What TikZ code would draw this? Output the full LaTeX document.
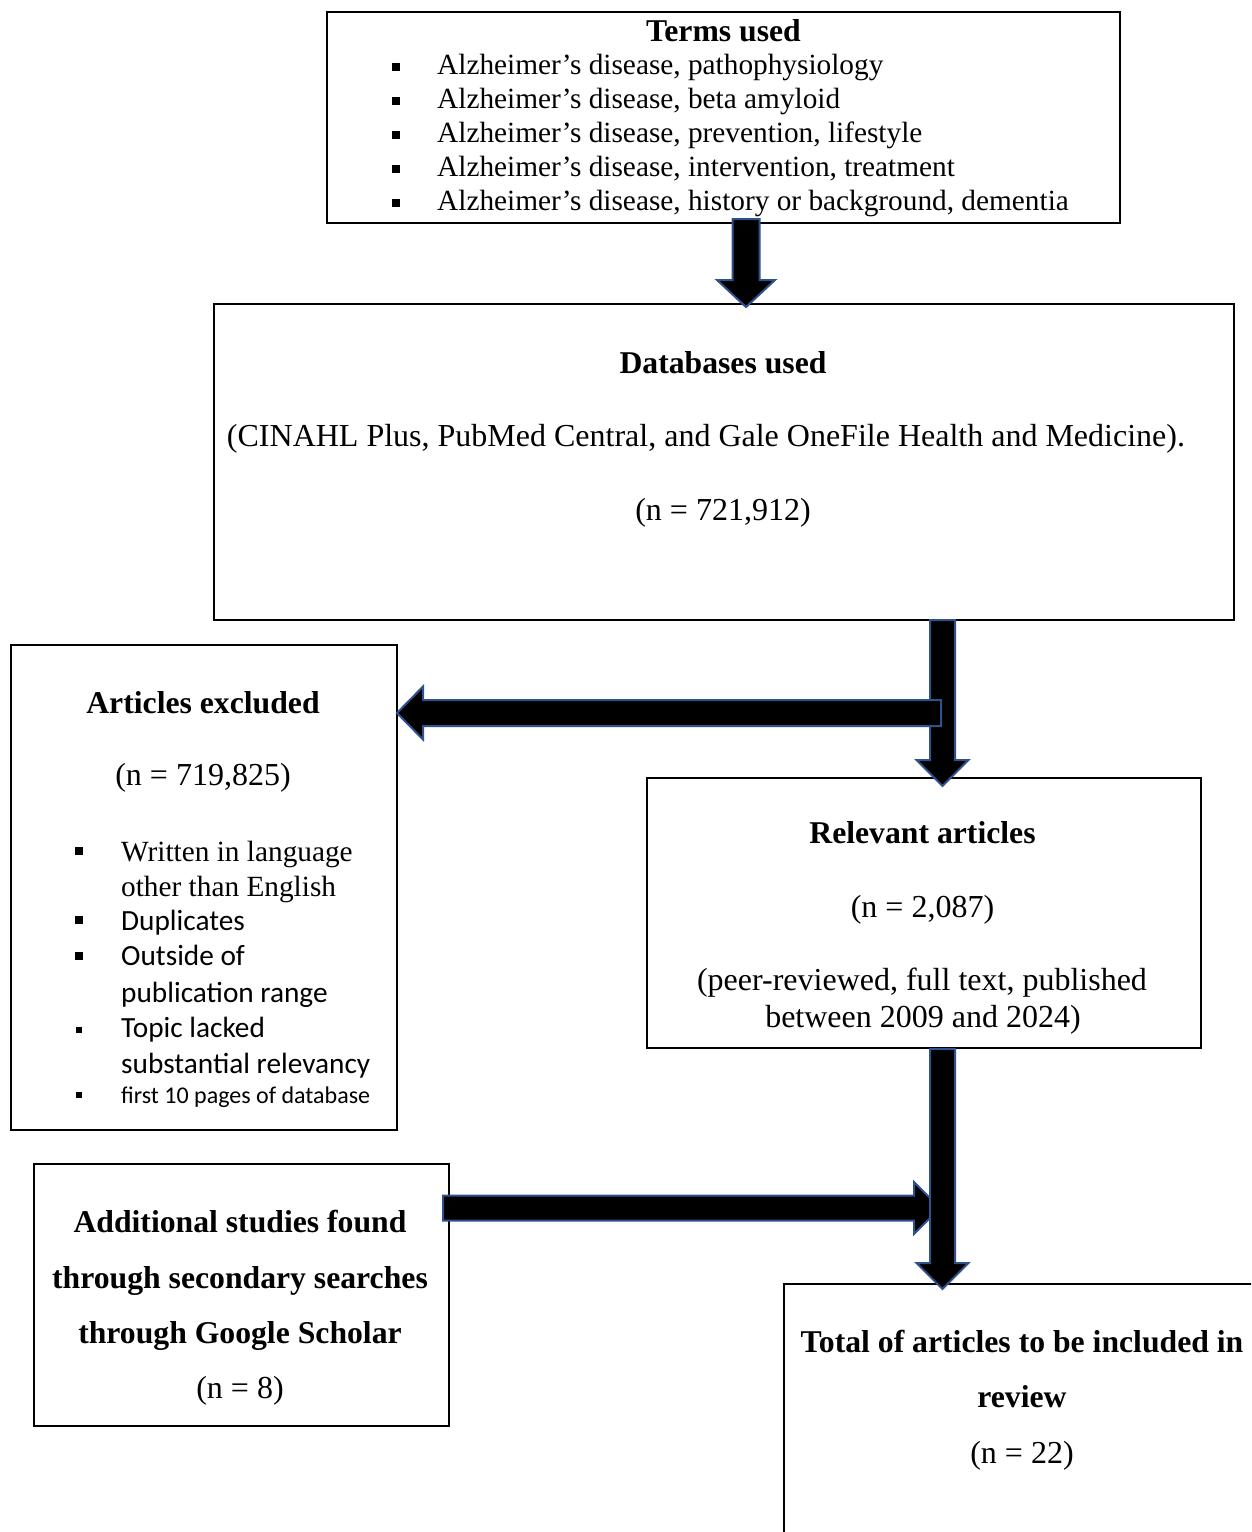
\documentclass[tikz,border=0pt]{standalone}
\usepackage{fontspec}
\setmainfont{Liberation Serif}
\newfontfamily\calibri{Carlito}
\definecolor{arrowblue}{RGB}{47,82,143}
\begin{document}
\begin{tikzpicture}[x=1pt,y=-1pt,
  box/.style={draw=black, line width=2pt, inner sep=0pt, anchor=north west},
  reg/.style={font=\fontsize{32}{37}\selectfont, anchor=base, inner sep=0pt},
  regl/.style={font=\fontsize{29.3}{34}\selectfont, anchor=base west, inner sep=0pt},
  bld/.style={font=\fontsize{31.7}{38}\selectfont\bfseries, anchor=base, inner sep=0pt},
  sans/.style={font=\calibri\fontsize{29.3}{34}\selectfont, anchor=base west, inner sep=0pt},
  sanssmall/.style={font=\calibri\fontsize{24}{28}\selectfont, anchor=base west, inner sep=0pt},
  bul/.style={fill=black, inner sep=0pt, minimum size=8pt},
  bulsmall/.style={fill=black, inner sep=0pt, minimum size=6pt},
  blk/.style={fill=black, draw=arrowblue, line width=2pt, line join=miter}]
\useasboundingbox (0,0) rectangle (1251,1532);
\fill[white] (0,0) rectangle (1251,1532);
\begin{scope}
\clip (0,0) rectangle (1251,1532);
% boxes
\node[box, minimum width=793pt, minimum height=211pt] (terms) at (326,11) {};
\node[box, minimum width=1020pt, minimum height=316pt] (db) at (213,303) {};
\node[box, minimum width=386pt, minimum height=485pt] (excl) at (10,644) {};
\node[box, minimum width=554pt, minimum height=270pt] (rel) at (646,777) {};
\node[box, minimum width=415pt, minimum height=262pt] (add) at (33,1163) {};
\node[box, minimum width=479pt, minimum height=317pt] (total) at (783,1283) {};

% terms text
\node[bld] (termsT) at (723.5,41) {Terms used};
\node[bul] (tb1) at (396,67) {};
\node[bul] (tb2) at (396,101) {};
\node[bul] (tb3) at (396,135) {};
\node[bul] (tb4) at (396,169) {};
\node[bul] (tb5) at (396,203) {};
\node[regl] (t1) at (437,74) {Alzheimer’s disease, pathophysiology};
\node[regl] (t2) at (437,108) {Alzheimer’s disease, beta amyloid};
\node[regl] (t3) at (437,142) {Alzheimer’s disease, prevention, lifestyle};
\node[regl] (t4) at (437,176) {Alzheimer’s disease, intervention, treatment};
\node[regl] (t5) at (437,210) {Alzheimer’s disease, history or background, dementia};

% databases text
\node[bld] (dbT) at (723,373) {Databases used};
\node[reg] (db1) at (706,446) {(CINAHL Plus, PubMed Central, and Gale OneFile Health and Medicine).};
\node[reg] (db2) at (723,520) {(n = 721,912)};

% excluded text
\node[bld] (exT) at (203,713) {Articles excluded};
\node[reg] (ex0) at (203,785) {(n = 719,825)};
\node[bul] (eb1) at (79,851) {};
\node[bul] (eb2) at (79,920) {};
\node[bul] (eb3) at (79,956) {};
\node[bulsmall] (eb4) at (79,1030) {};
\node[bulsmall] (eb5) at (79,1095) {};
\node[regl] (ex1) at (121,861) {Written in language};
\node[regl] (ex2) at (121,896) {other than English};
\node[sans] (ex3) at (121,930) {Duplicates};
\node[sans] (ex4) at (121,965) {Outside of};
\node[sans] (ex5) at (121,1002) {publication range};
\node[sans] (ex6) at (121,1037) {Topic lacked};
\node[sans] (ex7) at (121,1073) {substantial relevancy};
\node[sanssmall] (ex8) at (121,1103) {first 10 pages of database};

% relevant text
\node[bld] (relT) at (922.5,843) {Relevant articles};
\node[reg] (rel1) at (922.5,917) {(n = 2,087)};
\node[reg] (rel2) at (922,990) {(peer-reviewed, full text, published};
\node[reg] (rel3) at (923,1027) {between 2009 and 2024)};

% additional text
\node[bld] (add1) at (240,1232) {Additional studies found};
\node[bld] (add2) at (240,1288) {through secondary searches};
\node[bld] (add3) at (240,1343) {through Google Scholar};
\node[reg] (add4) at (240,1398) {(n = 8)};

% total text
\node[bld] (tot1) at (1022,1352) {Total of articles to be included in};
\node[bld] (tot2) at (1022,1407) {review};
\node[reg] (tot3) at (1022,1463) {(n = 22)};

% block arrows
\draw[blk] (732.5,219) -- (759.5,219) -- (759.5,280) -- (775,280) -- (746,307) -- (717,280) -- (732.5,280) -- cycle;
\draw[blk] (930,620) -- (955,620) -- (955,760) -- (968.5,760) -- (942.5,786) -- (916.5,760) -- (930,760) -- cycle;
\draw[blk] (941,700) -- (941,726) -- (423,726) -- (423,739.5) -- (397,713) -- (423,686.5) -- (423,700) -- cycle;
\draw[blk] (443,1195.5) -- (914,1195.5) -- (914,1182) -- (940,1208) -- (914,1234) -- (914,1220.5) -- (443,1220.5) -- cycle;
\draw[blk] (930,1049) -- (955,1049) -- (955,1263) -- (968.5,1263) -- (942.5,1289) -- (916.5,1263) -- (930,1263) -- cycle;
\end{scope}
\end{tikzpicture}
\end{document}
